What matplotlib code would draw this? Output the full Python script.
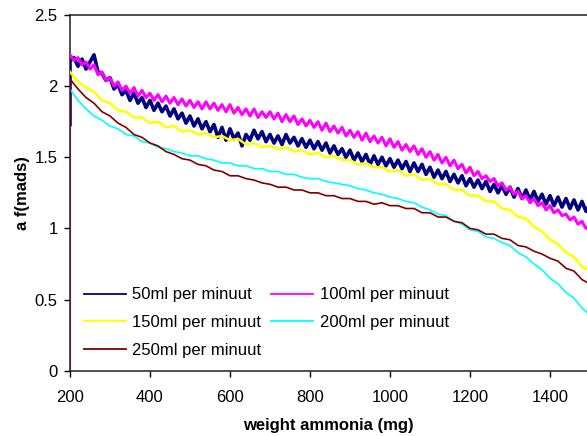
import numpy as np
import matplotlib
matplotlib.use("Agg")
import matplotlib.pyplot as plt

plt.rcParams['font.family'] = ['Liberation Sans', 'DejaVu Sans']

labels = ["50ml per minuut", "100ml per minuut", "150ml per minuut",
          "200ml per minuut", "250ml per minuut"]
colors = ["#000080", "#FF00FF", "#FFFF00", "#00FFFF", "#800000"]

# 50 ml/min (first value is the start point at x=200, then every 10 mg from 200)
navy = [1.73, 2.18, 2.20, 2.14, 2.19, 2.12, 2.17, 2.22, 2.10, 2.09, 2.04, 2.06, 1.98, 2.01, 1.94, 1.97,
        1.90, 1.95, 1.88, 1.92, 1.85, 1.90, 1.83, 1.88, 1.82, 1.86, 1.79, 1.84, 1.77, 1.81, 1.74, 1.79,
        1.72, 1.77, 1.70, 1.75, 1.68, 1.73, 1.64, 1.71, 1.62, 1.70, 1.63, 1.67, 1.58, 1.66, 1.62, 1.69,
        1.63, 1.68, 1.61, 1.66, 1.60, 1.65, 1.59, 1.66, 1.60, 1.64, 1.58, 1.63, 1.57, 1.62, 1.56, 1.61,
        1.55, 1.60, 1.53, 1.58, 1.52, 1.56, 1.50, 1.55, 1.48, 1.53, 1.47, 1.52, 1.45, 1.51, 1.45, 1.50,
        1.44, 1.49, 1.43, 1.48, 1.42, 1.47, 1.40, 1.46, 1.40, 1.45, 1.38, 1.43, 1.36, 1.41, 1.35, 1.40,
        1.33, 1.38, 1.32, 1.37, 1.30, 1.35, 1.29, 1.34, 1.28, 1.33, 1.26, 1.31, 1.25, 1.30, 1.24, 1.29,
        1.22, 1.28, 1.21, 1.27, 1.20, 1.26, 1.19, 1.24, 1.17, 1.23, 1.16, 1.22, 1.15, 1.21, 1.14, 1.20,
        1.13, 1.19, 1.12, 1.17]

# 100 ml/min, every 10 mg from 200
magenta = [2.22, 2.18, 2.20, 2.15, 2.17, 2.12, 2.15, 2.08, 2.10, 2.04, 2.06, 2.00, 2.03, 1.97, 2.00,
           1.95, 1.99, 1.93, 1.97, 1.92, 1.95, 1.90, 1.94, 1.89, 1.93, 1.88, 1.92, 1.87, 1.91, 1.86,
           1.90, 1.85, 1.89, 1.84, 1.89, 1.84, 1.88, 1.83, 1.87, 1.82, 1.87, 1.81, 1.85, 1.80, 1.84,
           1.79, 1.84, 1.78, 1.82, 1.78, 1.82, 1.77, 1.81, 1.75, 1.80, 1.75, 1.79, 1.73, 1.77, 1.72,
           1.76, 1.71, 1.75, 1.69, 1.74, 1.68, 1.72, 1.67, 1.71, 1.65, 1.69, 1.64, 1.68, 1.62, 1.67,
           1.61, 1.65, 1.60, 1.64, 1.58, 1.63, 1.57, 1.61, 1.55, 1.59, 1.54, 1.58, 1.52, 1.56, 1.50,
           1.54, 1.48, 1.52, 1.46, 1.50, 1.44, 1.48, 1.42, 1.45, 1.39, 1.43, 1.37, 1.40, 1.35, 1.37,
           1.33, 1.35, 1.30, 1.32, 1.27, 1.29, 1.24, 1.26, 1.21, 1.23, 1.18, 1.21, 1.16, 1.18, 1.13,
           1.16, 1.11, 1.13, 1.09, 1.10, 1.06, 1.08, 1.03, 1.05, 1.00, 1.02]

# 150 ml/min, every 20 mg from 200
yellow = [2.10, 2.03, 1.99, 1.96, 1.90, 1.88, 1.83, 1.82, 1.78, 1.78, 1.74, 1.75, 1.71, 1.72, 1.68,
          1.69, 1.66, 1.67, 1.64, 1.65, 1.62, 1.63, 1.59, 1.60, 1.57, 1.58, 1.56, 1.57, 1.54, 1.55,
          1.52, 1.53, 1.50, 1.51, 1.48, 1.48, 1.45, 1.46, 1.43, 1.43, 1.40, 1.41, 1.37, 1.38, 1.34,
          1.35, 1.31, 1.31, 1.27, 1.27, 1.23, 1.23, 1.19, 1.19, 1.14, 1.13, 1.08, 1.07, 1.01, 0.98,
          0.92, 0.89, 0.83, 0.80, 0.73, 0.70]

# 200 ml/min, every 20 mg from 200
cyan = [1.98, 1.90, 1.84, 1.79, 1.76, 1.72, 1.70, 1.66, 1.65, 1.61, 1.60, 1.57, 1.56, 1.54, 1.53,
        1.51, 1.51, 1.49, 1.48, 1.46, 1.46, 1.44, 1.44, 1.42, 1.42, 1.40, 1.40, 1.38, 1.38, 1.36,
        1.35, 1.35, 1.33, 1.32, 1.31, 1.30, 1.28, 1.27, 1.25, 1.24, 1.22, 1.21, 1.19, 1.18, 1.15,
        1.13, 1.10, 1.09, 1.05, 1.03, 0.99, 0.98, 0.94, 0.93, 0.90, 0.88, 0.83, 0.80, 0.75, 0.71,
        0.65, 0.61, 0.55, 0.51, 0.44, 0.39]

# 250 ml/min (first value is the start point at x=200, then every 20 mg from 200)
brown = [0.00, 2.05, 1.98, 1.92, 1.88, 1.82, 1.79, 1.74, 1.71, 1.66, 1.64, 1.60, 1.58, 1.54, 1.52,
         1.49, 1.48, 1.45, 1.44, 1.41, 1.40, 1.37, 1.37, 1.35, 1.34, 1.32, 1.31, 1.29, 1.29, 1.27,
         1.27, 1.25, 1.25, 1.23, 1.23, 1.21, 1.21, 1.19, 1.19, 1.17, 1.18, 1.16, 1.16, 1.14, 1.14,
         1.11, 1.11, 1.08, 1.08, 1.05, 1.04, 1.00, 0.99, 0.96, 0.96, 0.93, 0.92, 0.88, 0.87, 0.84,
         0.82, 0.79, 0.77, 0.72, 0.70, 0.64, 0.61]

xticks = [200, 400, 600, 800, 1000, 1200, 1400]
yticks = [0, 0.5, 1, 1.5, 2, 2.5]
yticklabels = ["0", "0.5", "1", "1.5", "2", "2.5"]

x_navy = np.r_[200, 200 + 10 * np.arange(len(navy) - 1)]
x_mag = 200 + 10 * np.arange(len(magenta))
x_yel = 200 + 20 * np.arange(len(yellow))
x_cya = 200 + 20 * np.arange(len(cyan))
x_bro = np.r_[200, 200 + 20 * np.arange(len(brown) - 1)]

fig = plt.figure(figsize=(5.87, 4.36), dpi=100)
ax = fig.add_axes([70/587, 1 - 370.7/436, 517/587, (370.7 - 15)/436])

lines = {}
lines[0], = ax.plot(x_navy, navy, color=colors[0], lw=2.6, zorder=3)
lines[1], = ax.plot(x_mag, magenta, color=colors[1], lw=2.2, zorder=3)
lines[2], = ax.plot(x_yel, yellow, color=colors[2], lw=1.8, zorder=3)
lines[3], = ax.plot(x_cya, cyan, color=colors[3], lw=1.2, zorder=3)
lines[4], = ax.plot(x_bro, brown, color=colors[4], lw=1.2, zorder=3)

ax.set_xlim(200, 200 + 517 / 0.4)
ax.set_ylim(0, 2.5)
ax.set_xticks(xticks)
ax.set_xticklabels([str(t) for t in xticks])
ax.set_yticks(yticks)
ax.set_yticklabels(yticklabels)
ax.tick_params(direction='out', length=4, width=1, labelsize=12, colors='black')
ax.tick_params(axis='x', pad=10)
ax.tick_params(axis='y', pad=5)
for s in ['left', 'bottom', 'top']:
    ax.spines[s].set_linewidth(1.1)
    ax.spines[s].set_color('#202020')
ax.spines['right'].set_visible(False)

ax.set_xlabel("weight ammonia (mg)", fontsize=12, fontweight='bold')
ax.set_ylabel("a f(mads)", fontsize=12, fontweight='bold')
ax.xaxis.set_label_coords(0.5, -0.133)
ax.yaxis.set_label_coords(-0.077, 0.5)

order = [0, 2, 4, 1, 3]
leg = ax.legend([lines[i] for i in order], [labels[i] for i in order], ncol=2,
                frameon=False, loc='upper left', bbox_to_anchor=(0.027, 0.234),
                borderaxespad=0, borderpad=0, fontsize=12, handlelength=2.5,
                handletextpad=0.4, columnspacing=0.6, labelspacing=0.77)
for h in leg.get_lines():
    h.set_linewidth(1.3)

fig.savefig("out.png", dpi=100)
